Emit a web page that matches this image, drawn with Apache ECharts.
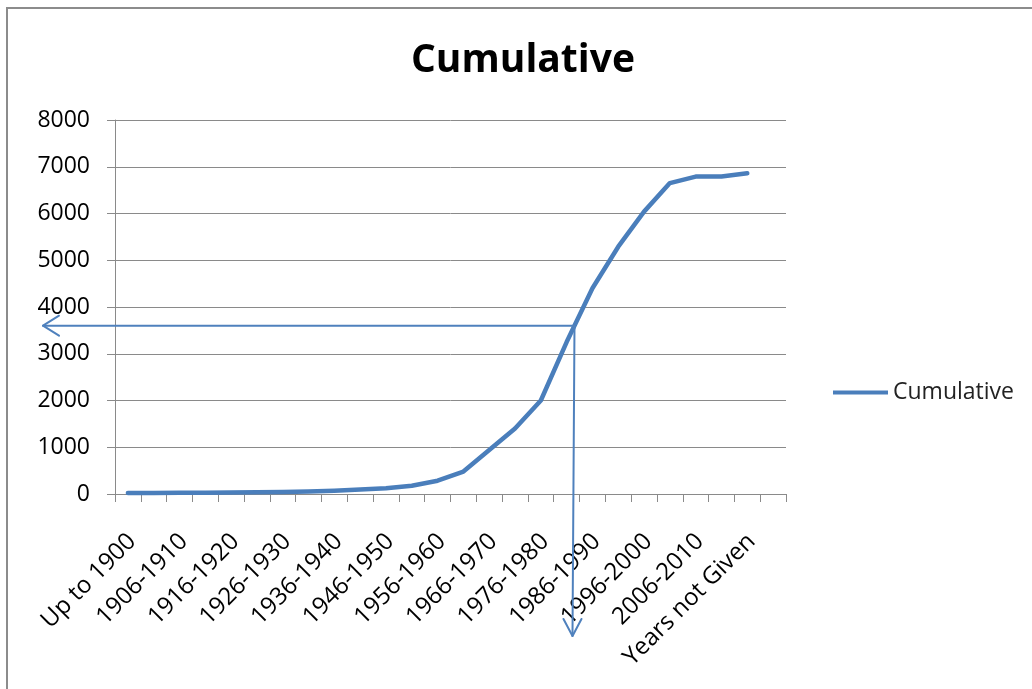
<!DOCTYPE html>
<html>
<head>
<meta charset="utf-8">
<script src="https://cdn.jsdelivr.net/npm/echarts@6/dist/echarts.min.js"></script>
<style>
  html, body { margin: 0; padding: 0; background: #ffffff; }
  #chart { width: 1032px; height: 689px; }
</style>
</head>
<body>
<div id="chart"></div>
<script>
// Period buckets on the category axis
const categories = [
  'Up to 1900', '1901-1905', '1906-1910', '1911-1915', '1916-1920',
  '1921-1925', '1926-1930', '1931-1935', '1936-1940', '1941-1945',
  '1946-1950', '1951-1955', '1956-1960', '1961-1965', '1966-1970',
  '1971-1975', '1976-1980', '1981-1985', '1986-1990', '1991-1995',
  '1996-2000', '2001-2005', '2006-2010', '2011-2015', 'Years not Given', ''
];

// Running total per bucket (last bucket is left empty)
const cumulative = [
  20, 22, 25, 28, 32, 38, 45, 55, 72, 95,
  125, 175, 285, 480, 940, 1400, 2000, 3250, 4400, 5290,
  6040, 6650, 6790, 6790, 6860, null
];

// Value-axis settings
const yMin = 0;
const yMax = 8000;
const yStep = 1000;

// Reference level with the arrows
const readLevel = 3600;

const FONT = '"Open Sans", "Noto Sans", sans-serif';
const BLUE = '#4a7ebb';
const GRID_GREY = '#8a8a8a';

const chart = echarts.init(document.getElementById('chart'), null, { renderer: 'canvas' });

chart.setOption({
  animation: false,
  backgroundColor: '#ffffff',
  title: {
    text: 'Cumulative',
    left: 411,
    top: 41,
    padding: 0,
    textStyle: { fontFamily: FONT, fontSize: 39, fontWeight: 'bold', color: '#000000' }
  },
  legend: {
    data: ['Cumulative'],
    left: 833,
    top: 381,
    padding: 0,
    icon: 'rect',
    itemWidth: 55,
    itemHeight: 4,
    itemGap: 6,
    textStyle: { fontFamily: FONT, fontSize: 23, color: '#222222' }
  },
  grid: { left: 115, right: 246, top: 120, bottom: 195, containLabel: false },
  xAxis: {
    type: 'category',
    data: categories,
    boundaryGap: true,
    axisLine: { show: true, lineStyle: { color: GRID_GREY, width: 1 } },
    axisTick: { show: true, interval: 0, length: 8, lineStyle: { color: GRID_GREY } },
    axisLabel: {
      interval: 1,
      rotate: 45,
      margin: 31,
      verticalAlign: 'top',
      padding: [0, 6, 0, 0],
      fontFamily: FONT,
      fontSize: 24,
      color: '#000000'
    },
    splitLine: { show: false }
  },
  yAxis: {
    type: 'value',
    min: yMin,
    max: yMax,
    interval: yStep,
    axisLine: { show: true, lineStyle: { color: GRID_GREY, width: 1 } },
    axisTick: { show: true, length: 8, lineStyle: { color: GRID_GREY } },
    axisLabel: {
      margin: 25,
      fontFamily: FONT,
      fontSize: 23,
      color: '#000000',
      formatter: (v) => String(v)
    },
    splitLine: { show: true, lineStyle: { color: GRID_GREY, width: 1 } }
  },
  series: [{
    name: 'Cumulative',
    type: 'line',
    data: cumulative,
    showSymbol: false,
    symbol: 'none',
    connectNulls: false,
    lineStyle: { color: BLUE, width: 4.5, cap: 'round', join: 'round' },
    itemStyle: { color: BLUE }
  }]
});

// Locate where the running total first reaches readLevel and draw the
// read-off arrows (to the value axis and down past the category labels).
function crossingPixel(level) {
  for (let i = 0; i < cumulative.length - 1; i++) {
    const a = cumulative[i], b = cumulative[i + 1];
    if (a == null || b == null) continue;
    if (a <= level && b >= level) {
      const f = (level - a) / (b - a);
      const p0 = chart.convertToPixel({ xAxisIndex: 0 }, i);
      const p1 = chart.convertToPixel({ xAxisIndex: 0 }, i + 1);
      return [p0 + f * (p1 - p0), chart.convertToPixel({ yAxisIndex: 0 }, level)];
    }
  }
  return null;
}

const hit = crossingPixel(readLevel);
if (hit) {
  const [cx, cy] = hit;
  const gridLeft = 115, gridBottom = 689 - 195;
  const leftEnd = gridLeft - 72;
  const bottomEnd = gridBottom + 142;
  const bottomX = cx - 2;
  const arrowStyle = { stroke: '#4f81bd', lineWidth: 2, fill: null, lineCap: 'round', lineJoin: 'round' };
  chart.setOption({
    graphic: [
      // chart frame
      { type: 'rect', shape: { x: 7, y: 8, width: 1100, height: 1000 },
        style: { stroke: '#8c8c8c', lineWidth: 2, fill: null }, silent: true, z: 0 },
      // horizontal arrow to the value axis
      { type: 'line', shape: { x1: cx, y1: cy, x2: leftEnd, y2: cy }, style: arrowStyle, z: 10 },
      { type: 'polyline', shape: { points: [[leftEnd + 16, cy - 10], [leftEnd, cy], [leftEnd + 16, cy + 10]] },
        style: arrowStyle, z: 10 },
      // vertical arrow down through the category labels
      { type: 'line', shape: { x1: cx, y1: cy, x2: bottomX, y2: bottomEnd }, style: arrowStyle, z: 10 },
      { type: 'polyline', shape: { points: [[bottomX - 9, bottomEnd - 17], [bottomX, bottomEnd], [bottomX + 9, bottomEnd - 17]] },
        style: arrowStyle, z: 10 }
    ]
  });
}
</script>
</body>
</html>
